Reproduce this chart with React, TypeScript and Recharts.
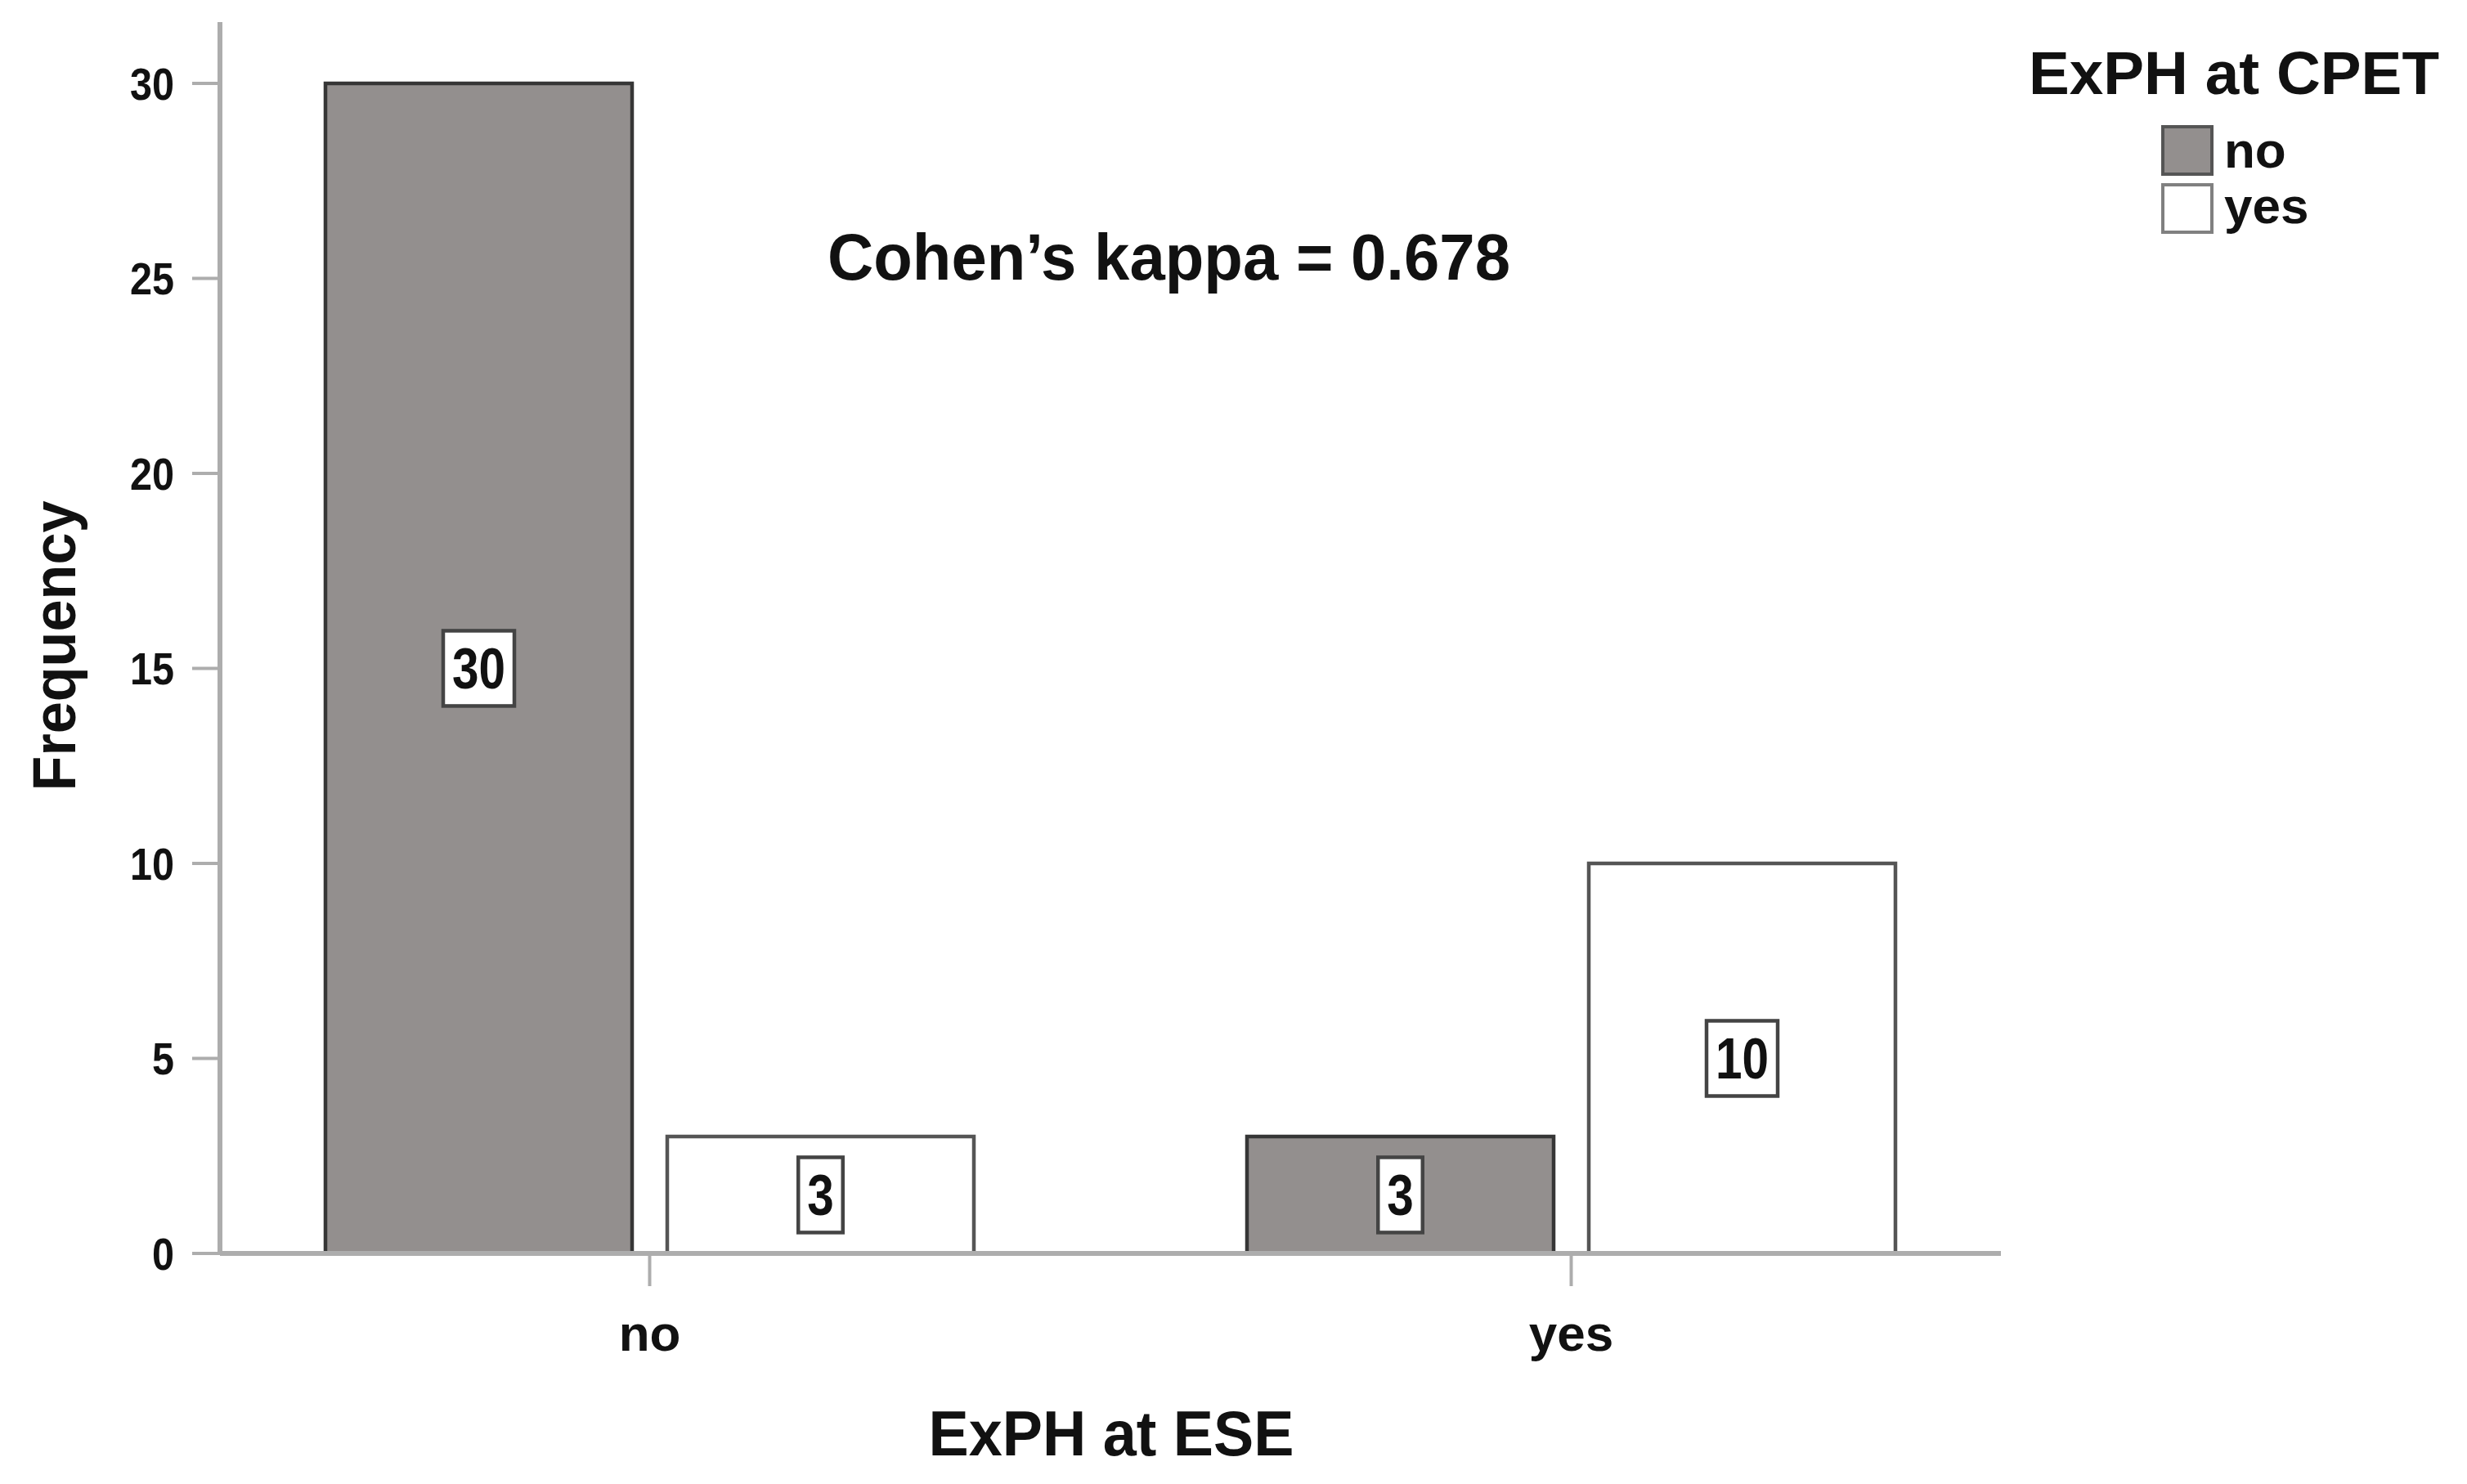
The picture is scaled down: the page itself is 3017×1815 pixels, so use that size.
import React from "react";
import { BarChart, Bar, XAxis, YAxis, LabelList, Label } from "recharts";

// crosstab: ExPH at ESE (x) vs ExPH at CPET (series)
const categories = ["no", "yes"];
const cpetNoCounts = [30, 3];
const cpetYesCounts = [3, 10];
const yTicks = [0, 5, 10, 15, 20, 25, 30];
const seriesKeys = ["no", "yes"];
const seriesNames = ["no", "yes"];
const legendTitle = "ExPH at CPET";
const xTitle = "ExPH at ESE";
const yTitle = "Frequency";
const kappaNote = "Cohen\u2019s kappa = 0.678";

const data = categories.map((name, i) => ({
  name,
  no: cpetNoCounts[i],
  yes: cpetYesCounts[i],
}));

const FONT = "'Liberation Sans', Arial, sans-serif";
const fills = ["#938f8e", "#ffffff"];
const strokes = ["#363636", "#555555"];
const AXIS = "#adadad";
const INK = "#111";

const YTick = (props: any) => {
  const { x, y, payload } = props;
  const s = String(payload.value);
  return (
    <text
      x={x}
      y={y}
      dy={20}
      textAnchor="end"
      fontFamily={FONT}
      fontWeight="bold"
      fontSize={56}
      fill={INK}
      textLength={27 * s.length}
      lengthAdjust="spacingAndGlyphs"
    >
      {s}
    </text>
  );
};

const XTick = (props: any) => {
  const { x, y, payload } = props;
  return (
    <text
      x={x}
      y={y}
      dy={77}
      textAnchor="middle"
      fontFamily={FONT}
      fontWeight="bold"
      fontSize={62}
      fill={INK}
    >
      {payload.value}
    </text>
  );
};

const BoxLabel = (props: any) => {
  const { x, y, width, height, value } = props;
  const cx = x + width / 2;
  const cy = y + height / 2;
  const s = String(value);
  const tw = 32.5 * s.length;
  const bw = tw + 22;
  const bh = 92;
  return (
    <g>
      <rect
        x={cx - bw / 2}
        y={cy - bh / 2}
        width={bw}
        height={bh}
        fill="#fff"
        stroke="#444"
        strokeWidth={4.5}
      />
      <text
        x={cx}
        y={cy}
        dy={25}
        textAnchor="middle"
        fontFamily={FONT}
        fontWeight="bold"
        fontSize={70}
        fill={INK}
        textLength={tw}
        lengthAdjust="spacingAndGlyphs"
      >
        {s}
      </text>
    </g>
  );
};

const YTitle = () => (
  <text
    x={92}
    y={790}
    transform="rotate(-90 92 790)"
    textAnchor="middle"
    fontFamily={FONT}
    fontWeight="bold"
    fontSize={74}
    fill={INK}
    textLength={355}
    lengthAdjust="spacingAndGlyphs"
  >
    {yTitle}
  </text>
);

const XTitle = () => (
  <text
    x={1359}
    y={1780}
    textAnchor="middle"
    fontFamily={FONT}
    fontWeight="bold"
    fontSize={77}
    fill={INK}
    textLength={447}
    lengthAdjust="spacingAndGlyphs"
  >
    {xTitle}
  </text>
);

export default function App() {
  return (
    <div style={{ position: "absolute", left: 0, top: 0, background: "#fff" }}>
      <BarChart
        width={3017}
        height={1815}
        data={data}
        margin={{ top: 27, right: 570, bottom: 182, left: 169 }}
        barSize={375}
        barGap={43}
      >
        <XAxis
          dataKey="name"
          height={100}
          padding={{ left: -38, right: -38 }}
          axisLine={{ stroke: AXIS, strokeWidth: 6 }}
          tickLine={{ stroke: AXIS, strokeWidth: 4 }}
          tickSize={40}
          tick={<XTick />}
          interval={0}
        >
          <Label content={<XTitle />} />
        </XAxis>
        <YAxis
          width={100}
          domain={[0, 31.57]}
          ticks={yTicks}
          allowDataOverflow
          axisLine={{ stroke: AXIS, strokeWidth: 6 }}
          tickLine={{ stroke: AXIS, strokeWidth: 4 }}
          tickSize={34}
          tickMargin={22}
          tick={<YTick />}
        >
          <Label content={<YTitle />} />
        </YAxis>
        {seriesKeys.map((k, i) => (
          <Bar
            key={k}
            dataKey={k}
            name={seriesNames[i]}
            fill={fills[i]}
            stroke={strokes[i]}
            strokeWidth={4.5}
            isAnimationActive={false}
          >
            <LabelList dataKey={k} content={<BoxLabel />} />
          </Bar>
        ))}

        <text
          x={1012}
          y={342}
          fontFamily={FONT}
          fontWeight="bold"
          fontSize={80}
          fill={INK}
          textLength={835}
          lengthAdjust="spacingAndGlyphs"
        >
          {kappaNote}
        </text>

        <g>
          <text
            x={2481}
            y={115}
            fontFamily={FONT}
            fontWeight="bold"
            fontSize={75}
            fill={INK}
            textLength={502}
            lengthAdjust="spacingAndGlyphs"
          >
            {legendTitle}
          </text>
          {seriesNames.map((n, i) => (
            <g key={n}>
              <rect
                x={2645}
                y={155 + i * 71}
                width={60}
                height={58}
                fill={fills[i]}
                stroke={i === 0 ? "#555" : "#808080"}
                strokeWidth={4}
              />
              <text
                x={2720}
                y={205 + i * 68}
                fontFamily={FONT}
                fontWeight="bold"
                fontSize={62}
                fill={INK}
              >
                {n}
              </text>
            </g>
          ))}
        </g>
      </BarChart>
    </div>
  );
}
